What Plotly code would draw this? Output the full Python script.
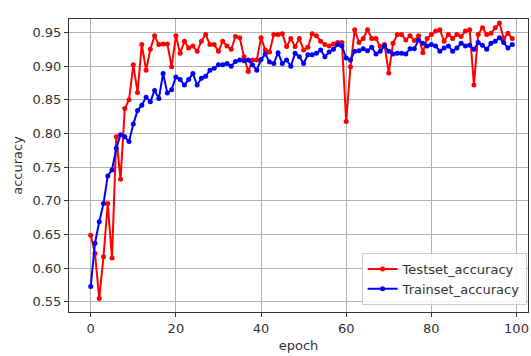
import plotly.graph_objects as go

epochs = list(range(100))

test_acc = [
    0.649, 0.622, 0.555, 0.617, 0.696, 0.615, 0.795, 0.732, 0.837, 0.850,
    0.902, 0.861, 0.932, 0.894, 0.925, 0.945, 0.932, 0.933, 0.933, 0.899,
    0.945, 0.919, 0.937, 0.927, 0.930, 0.922, 0.937, 0.947, 0.932, 0.932,
    0.922, 0.937, 0.930, 0.925, 0.944, 0.942, 0.914, 0.892, 0.909, 0.909,
    0.942, 0.924, 0.921, 0.947, 0.947, 0.948, 0.929, 0.941, 0.929, 0.941,
    0.924, 0.928, 0.948, 0.945, 0.937, 0.932, 0.930, 0.933, 0.935, 0.935,
    0.818, 0.899, 0.954, 0.935, 0.941, 0.954, 0.941, 0.941, 0.929, 0.932,
    0.890, 0.934, 0.947, 0.947, 0.939, 0.945, 0.938, 0.945, 0.920, 0.941,
    0.947, 0.952, 0.954, 0.937, 0.947, 0.941, 0.947, 0.944, 0.952, 0.954,
    0.872, 0.947, 0.957, 0.947, 0.949, 0.957, 0.964, 0.941, 0.949, 0.941,
]

train_acc = [
    0.573, 0.637, 0.669, 0.696, 0.737, 0.746, 0.778, 0.798, 0.795, 0.788,
    0.814, 0.834, 0.842, 0.854, 0.847, 0.864, 0.852, 0.889, 0.860, 0.865,
    0.884, 0.880, 0.872, 0.880, 0.889, 0.872, 0.882, 0.885, 0.894, 0.897,
    0.902, 0.902, 0.904, 0.900, 0.907, 0.909, 0.908, 0.909, 0.902, 0.894,
    0.910, 0.918, 0.906, 0.904, 0.920, 0.904, 0.909, 0.900, 0.919, 0.914,
    0.904, 0.917, 0.917, 0.919, 0.924, 0.914, 0.921, 0.925, 0.932, 0.930,
    0.912, 0.909, 0.922, 0.923, 0.926, 0.923, 0.928, 0.918, 0.922, 0.930,
    0.922, 0.918, 0.919, 0.919, 0.918, 0.926, 0.926, 0.939, 0.934, 0.930,
    0.932, 0.930, 0.922, 0.927, 0.930, 0.922, 0.927, 0.934, 0.930, 0.931,
    0.925, 0.935, 0.931, 0.925, 0.934, 0.937, 0.942, 0.935, 0.927, 0.932,
]

x_ticks = [0, 20, 40, 60, 80, 100]
y_ticks = [0.55, 0.60, 0.65, 0.70, 0.75, 0.80, 0.85, 0.90, 0.95]

font = "DejaVu Sans, Arial, sans-serif"
fs = 13

fig = go.Figure()
fig.add_trace(go.Scatter(
    x=epochs, y=test_acc, mode="lines+markers", name="Testset_accuracy",
    line=dict(color="#ff0000", width=2), marker=dict(color="#ff0000", size=5),
))
fig.add_trace(go.Scatter(
    x=epochs, y=train_acc, mode="lines+markers", name="Trainset_accuracy",
    line=dict(color="#0000ff", width=2), marker=dict(color="#0000ff", size=5),
))

axis_common = dict(
    showgrid=True, gridcolor="#b0b0b0", gridwidth=1,
    showline=True, linecolor="#333333", linewidth=1, mirror=True,
    ticks="outside", ticklen=4, tickcolor="#333333",
    zeroline=False, automargin=False,
    tickfont=dict(family=font, size=fs, color="#333333"),
)

fig.update_layout(
    width=531, height=356,
    margin=dict(l=69, r=3, t=19, b=44),
    paper_bgcolor="white", plot_bgcolor="white",
    font=dict(family=font, size=fs, color="#333333"),
    xaxis=dict(range=[-5.1, 102.7], tickvals=x_ticks,
               title=dict(text="epoch", standoff=6,
                          font=dict(family=font, size=fs, color="#333333")),
               **axis_common),
    yaxis=dict(range=[0.535, 0.970], tickvals=y_ticks, tickformat=".2f",
               title=dict(text="accuracy", standoff=6,
                          font=dict(family=font, size=fs, color="#333333")),
               **axis_common),
    legend=dict(x=0.997, y=0.024, xanchor="right", yanchor="bottom",
                bgcolor="rgba(255,255,255,0.85)", bordercolor="#cccccc", borderwidth=1,
                font=dict(family=font, size=fs, color="#333333"),
                itemwidth=30, tracegroupgap=0),
    showlegend=True,
)

fig.write_html("out.html", config={"displayModeBar": False},
               post_script="document.body.style.margin='0px';document.body.style.overflow='hidden';")
